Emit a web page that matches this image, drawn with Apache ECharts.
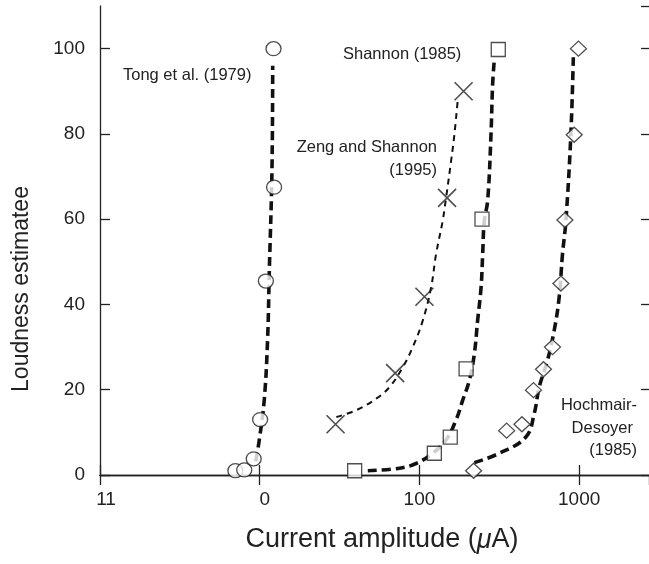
<!DOCTYPE html>
<html>
<head>
<meta charset="utf-8">
<script src="https://cdn.jsdelivr.net/npm/echarts@6/dist/echarts.min.js"></script>
<style>
html,body{margin:0;padding:0;background:#fff;}
#chart{width:649px;height:564px;}
</style>
</head>
<body>
<div id="chart"></div>
<script>
// ---- data (x: current amplitude in µA, log axis; y: loudness estimate) ----
const xTickValues = [1, 10, 100, 1000];
const xTickLabels = ['11', '0', '100', '1000'];
const yTickValues = [0, 20, 40, 60, 80, 100];

const tongPoints = [[7.04, 1.0], [8.0, 1.2], [9.17, 3.8], [10.06, 13.0], [10.93, 45.5], [12.3, 67.5], [12.2, 100]];
const tongFit = [[9.44, 3.2], [9.91, 7.9], [10.67, 17.5], [11.2, 31.7], [11.48, 47.6], [11.93, 71.4], [12.06, 96.0]];

const zengPoints = [[29.85, 11.9], [70.5, 23.9], [107.5, 41.8], [149, 65.0], [189, 90.0]];
const zengFit = [[30.2, 13.6], [40.2, 15.2], [53.6, 17.9], [64.9, 20.6], [78.7, 25.3], [90.8, 30.0], [104.9, 36.2], [118.3, 44.0], [127.1, 51.8], [139.8, 59.6], [146.8, 65.0], [157.8, 73.6], [165.5, 79.8], [173.4, 87.6]];

const shannonPoints = [[39.3, 1.0], [124, 5.1], [156, 8.9], [196, 24.9], [246.5, 60.0], [311.7, 99.8]];
const shannonFit = [[47.5, 1.0], [75, 1.6], [95.3, 2.7], [121.1, 5.1], [146.8, 8.2], [169.5, 12.9], [186.5, 17.5], [205.4, 22.2], [220.7, 28.4], [231.4, 36.2], [243.2, 44.0], [248.9, 51.8], [254.8, 59.6], [267.4, 64.3], [280.6, 79.8], [287.2, 91.5], [294.3, 97.4]];

const hochPoints = [[218.4, 1.0], [351.6, 10.4], [438.5, 11.9], [517.6, 19.9], [598.4, 24.8], [681, 30.0], [768.6, 44.9], [814.6, 59.8], [931.4, 79.8], [990, 100]];
const hochFit = [[220.7, 2.9], [316.2, 5.1], [464.2, 8.9], [523.3, 14.4], [562.3, 20.6], [633.9, 26.9], [698, 33.9], [749.9, 41.7], [786.6, 51.8], [826, 59.6], [887.5, 79.9], [921, 99.0]];

const labelTong = 'Tong et al. (1979)';
const labelShannon = 'Shannon (1985)';
const labelZeng = ['Zeng and Shannon', '(1995)'];
const labelHoch = ['Hochmair-', 'Desoyer', '(1985)'];
const xTitle = 'Current amplitude ({i|\u03bc}A)';
const yTitle = 'Loudness estimatee';

// ---- styling ----
const FONT = 'Liberation Sans, Arial, Helvetica, sans-serif';
const TXT = '#222';
const AX = '#222';
const X_MIN = 1, X_MAX = 2738, Y_MIN = 0, Y_MAX = 110;

function xLabel(v) {
  const i = xTickValues.findIndex(t => Math.abs(Math.log10(v) - Math.log10(t)) < 1e-6);
  if (i < 0) return '';
  if (i === 0) return '{a|' + xTickLabels[i] + '}';
  if (i === 1) return '{b|' + xTickLabels[i] + '}';
  return '{c|' + xTickLabels[i] + '}';
}
function yLabel(v) {
  return yTickValues.indexOf(Math.round(v)) >= 0 && Math.abs(v - Math.round(v)) < 1e-6 ? String(Math.round(v)) : '';
}

const thick = { color: '#111', width: 3.6, type: [9, 5] };
const thin = { color: '#111', width: 2, type: [6, 5] };
const mk = { color: '#fff', borderColor: '#222', borderWidth: 1.3 };

const chart = echarts.init(document.getElementById('chart'), null, { renderer: 'canvas' });
const labStyle = { fontSize: 19, fontFamily: FONT, color: TXT };

chart.setOption({
  animation: false,
  backgroundColor: '#fff',
  grid: { left: 100, right: -1, top: 6, bottom: 89, containLabel: false },
  xAxis: [
    {
      type: 'log', logBase: 10, min: X_MIN, max: X_MAX, position: 'bottom',
      axisLine: { show: true, lineStyle: { color: AX, width: 1.3 } },
      axisTick: { show: true, inside: true, length: 10, lineStyle: { color: AX, width: 1.3 } },
      minorTick: { show: false },
      splitLine: { show: false },
      axisLabel: {
        show: true, margin: 15, formatter: xLabel, showMaxLabel: false,
        rich: {
          a: Object.assign({ padding: [0, 0, 0, 12] }, labStyle),
          b: Object.assign({ padding: [0, 0, 0, 10] }, labStyle),
          c: Object.assign({}, labStyle)
        }
      }
    },
    {
      type: 'log', logBase: 10, min: X_MIN, max: X_MAX, position: 'top',
      axisLine: { show: true, lineStyle: { color: AX, width: 1.3 } },
      axisTick: { show: true, inside: true, length: 10, lineStyle: { color: AX, width: 1.3 } },
      splitLine: { show: false },
      axisLabel: { show: false }
    }
  ],
  yAxis: [
    {
      type: 'value', min: Y_MIN, max: Y_MAX, interval: 20, position: 'left',
      axisLine: { show: true, lineStyle: { color: AX, width: 1.3 } },
      axisTick: { show: true, inside: true, length: 10, lineStyle: { color: AX, width: 1.3 } },
      splitLine: { show: false },
      axisLabel: { show: true, margin: 15, formatter: yLabel, showMaxLabel: false, fontSize: 19, fontFamily: FONT, color: TXT }
    },
    {
      type: 'value', min: Y_MIN, max: Y_MAX, interval: 20, position: 'right',
      axisLine: { show: false },
      axisTick: { show: true, inside: true, length: 8, lineStyle: { color: AX, width: 1.3 } },
      splitLine: { show: false },
      axisLabel: { show: false }
    }
  ],
  series: [
    { type: 'line', data: tongFit, smooth: 0.4, showSymbol: false, lineStyle: thick, z: 2, silent: true },
    { type: 'line', data: zengFit, smooth: 0.4, showSymbol: false, lineStyle: thin, z: 2, silent: true },
    { type: 'line', data: shannonFit, smooth: 0.4, showSymbol: false, lineStyle: thick, z: 2, silent: true },
    { type: 'line', data: hochFit, smooth: 0.4, showSymbol: false, lineStyle: thick, z: 2, silent: true },
    { type: 'scatter', data: tongPoints, symbol: 'circle', symbolSize: [15, 14], itemStyle: mk, z: 3 },
    { type: 'scatter', data: zengPoints, symbol: 'path://M0,0L10,10M10,0L0,10', symbolSize: 18,
      itemStyle: { color: 'transparent', borderColor: '#222', borderWidth: 1.6 }, z: 3 },
    { type: 'scatter', data: shannonPoints, symbol: 'rect', symbolSize: 14, itemStyle: mk, z: 3 },
    { type: 'scatter', data: hochPoints, symbol: 'diamond', symbolSize: [16, 15], itemStyle: mk, z: 3 }
  ],
  graphic: [
    { type: 'text', x: 123, y: 75, style: { text: labelTong, fontSize: 16.5, fontFamily: FONT, fill: TXT, align: 'left', verticalAlign: 'middle' } },
    { type: 'text', x: 343, y: 54, style: { text: labelShannon, fontSize: 16.5, fontFamily: FONT, fill: TXT, align: 'left', verticalAlign: 'middle' } },
    { type: 'text', x: 437, y: 147, style: { text: labelZeng[0], fontSize: 16.5, fontFamily: FONT, fill: TXT, align: 'right', verticalAlign: 'middle' } },
    { type: 'text', x: 437, y: 170, style: { text: labelZeng[1], fontSize: 16.5, fontFamily: FONT, fill: TXT, align: 'right', verticalAlign: 'middle' } },
    { type: 'text', x: 637, y: 405, style: { text: labelHoch[0], fontSize: 16.5, fontFamily: FONT, fill: TXT, align: 'right', verticalAlign: 'middle' } },
    { type: 'text', x: 633, y: 428, style: { text: labelHoch[1], fontSize: 16.5, fontFamily: FONT, fill: TXT, align: 'right', verticalAlign: 'middle' } },
    { type: 'text', x: 637, y: 450, style: { text: labelHoch[2], fontSize: 16.5, fontFamily: FONT, fill: TXT, align: 'right', verticalAlign: 'middle' } },
    { type: 'text', x: 382, y: 540, style: { text: xTitle, fontSize: 27, fontFamily: FONT, fill: TXT, align: 'center', verticalAlign: 'middle',
        rich: { i: { fontSize: 27, fontFamily: FONT, fontStyle: 'italic', fill: TXT } } } },
    { type: 'text', x: 22, y: 289, rotation: Math.PI / 2, style: { text: yTitle, fontSize: 23, fontFamily: FONT, fill: TXT, align: 'center', verticalAlign: 'middle' } }
  ]
});
</script>
</body>
</html>
